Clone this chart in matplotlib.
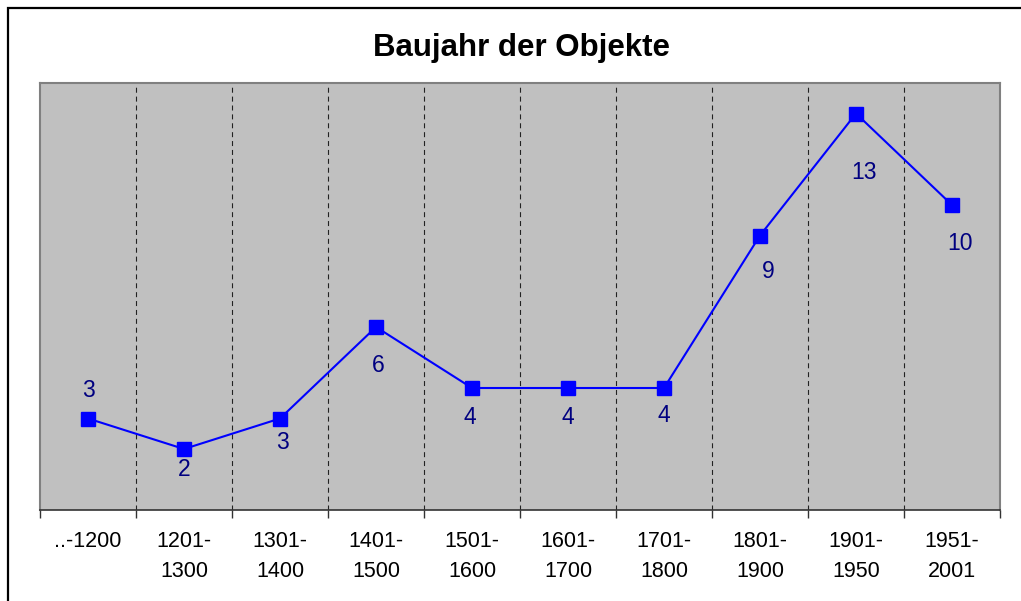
import matplotlib
matplotlib.use("Agg")
import matplotlib.pyplot as plt
from matplotlib.patches import Rectangle

categories = ["..-1200", "1201-\n1300", "1301-\n1400", "1401-\n1500", "1501-\n1600",
              "1601-\n1700", "1701-\n1800", "1801-\n1900", "1901-\n1950", "1951-\n2001"]
values = [3, 2, 3, 6, 4, 4, 4, 9, 13, 10]
title = "Baujahr der Objekte"

# label offsets in pixels (dx, dy) — styling only
label_offsets = [(0, 28), (0, -20), (2, -24), (2, -38), (-2, -30), (0, -30), (0, -28),
                 (8, -36), (8, -59), (8, -39)]

plt.rcParams['font.family'] = ['Liberation Sans', 'DejaVu Sans']

W, H = 1021, 601
fig = plt.figure(figsize=(W / 100, H / 100), dpi=100)
fig.patch.set_facecolor('white')

# outer frame (only left and top visible)
fig.patches.append(Rectangle((8 / W, -0.1), 1.2, 1.1 - 8 / H, transform=fig.transFigure,
                             fill=False, edgecolor='black', linewidth=1.6, zorder=10))

ax = fig.add_axes([40 / W, (H - 510) / H, 960 / W, 427 / H])
ax.set_facecolor('#C0C0C0')
n = len(categories)
x = list(range(n))
ax.set_xlim(-0.5, n - 0.5)
ax.set_ylim(0, 14)

for b in range(1, n):
    ax.axvline(b - 0.5, color='#222222', linewidth=0.8, linestyle=(0, (4.5, 3.5)), zorder=1)

ax.plot(x, values, color='#0000FF', linewidth=1.5, marker='s', markersize=9.6,
        markerfacecolor='#0000FF', markeredgecolor='#0000FF', zorder=3)

for xi, v, (dx, dy) in zip(x, values, label_offsets):
    ax.annotate(str(v), (xi, v), xytext=(dx, dy), textcoords='offset pixels',
                ha='center', va='center', fontsize=16.5, color='#000080', zorder=4)

ax.set_yticks([])
ax.set_xticks(x)
ax.set_xticklabels(categories, fontsize=15.5, color='black', linespacing=1.55, va='top')
ax.tick_params(axis='x', which='major', length=0, pad=15)
ax.set_xticks([b - 0.5 for b in range(n + 1)], minor=True)
ax.tick_params(axis='x', which='minor', length=6, width=1, color='#333333', direction='out')

for s in ['left', 'top', 'right']:
    ax.spines[s].set_color('#808080')
    ax.spines[s].set_linewidth(1.5)
ax.spines['bottom'].set_color('#333333')
ax.spines['bottom'].set_linewidth(1.2)

fig.text(521 / W, 1 - 48 / H, title, ha='center', va='center', fontsize=22.5,
         fontweight='bold', color='black')

fig.savefig('out.png', dpi=100)
